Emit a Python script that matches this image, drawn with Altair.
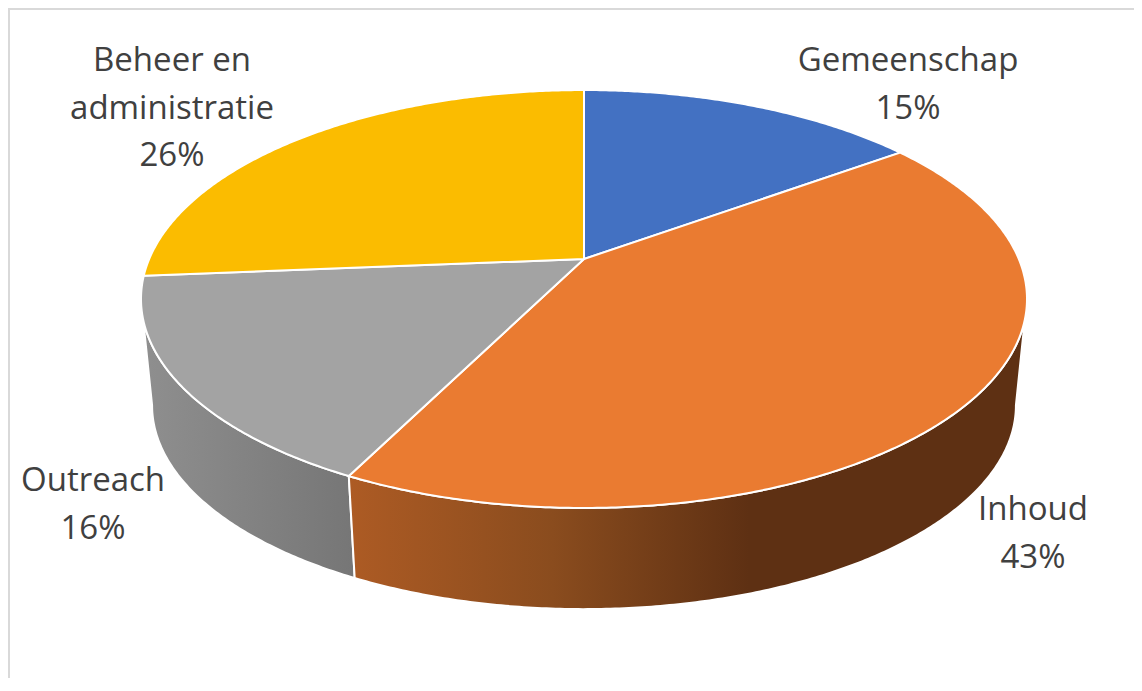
import numpy as np
import altair as alt

categories = ["Gemeenschap", "Inhoud", "Outreach", "Beheer en administratie"]
shares = [15.0, 42.4, 16.3, 26.3]
percent_labels = ["15%", "43%", "16%", "26%"]
colors = ["#4371C2", "#EA7B31", "#A3A3A3", "#FBBC00"]
label_lines = [["Gemeenschap", "15%"], ["Inhoud", "43%"], ["Outreach", "16%"],
               ["Beheer en", "administratie", "26%"]]
label_centres_px = [(908, 71), (1033, 520), (93, 491), (172, 71)]
line_step_px = 47.5

# Perspective of the tilted disc, in units of the projection scale
PERSP = 0.1914
V_RATIO = 201.3 / 434.8
SCALE = 434.8
CX, CY = 584 - 8, 259 - 8
BOTTOM_S = 0.975
BOTTOM_DY = 107.4 / SCALE
VISIBLE_FROM, VISIBLE_TO = 101.0, 259.0


def disc(theta_deg):
    t = np.radians(theta_deg)
    u, v = np.sin(t), np.cos(t)
    w = 1 + PERSP * v
    return u / w, V_RATIO * v / w


def top(theta_deg):
    return [[float(a), float(b)] for a, b in zip(*disc(theta_deg))]


def bottom(theta_deg):
    x, y = disc(theta_deg)
    return [[float(a), float(b)] for a, b in zip(BOTTOM_S * x, BOTTOM_S * y - BOTTOM_DY)]


def feature(name, ring):
    return {"type": "Feature", "properties": {"name": name},
            "geometry": {"type": "Polygon", "coordinates": [ring + [ring[0]]]}}


edges = np.cumsum([0.0] + shares) / sum(shares) * 360.0
tops, walls = [], {}
for i, name in enumerate(categories):
    a, b = edges[i], edges[i + 1]
    arc = np.linspace(a, b, int(b - a) * 2 + 2)
    tops.append(feature(name, [[0.0, 0.0]] + top(arc)))
    lo, hi = max(a, VISIBLE_FROM), min(b, VISIBLE_TO)
    if hi > lo:
        th = np.linspace(lo, hi, int(hi - lo) * 2 + 2)
        walls[name] = feature(name, top(th) + bottom(th)[::-1])

projection = dict(type="identity", reflectY=True, scale=SCALE, translate=[CX, CY])


def wall_layer(name, stops):
    grad = alt.Gradient(gradient="linear", x1=0, x2=1, y1=0, y2=0,
                        stops=[alt.GradientStop(offset=o, color=c) for o, c in stops])
    return alt.Chart(alt.Data(values=[walls[name]])).mark_geoshape(
        fill=grad, stroke="#FFFFFF", strokeWidth=2, filled=True
    ).project(**projection)


wall_out = wall_layer("Outreach", [(0, "#8F8F8F"), (1, "#767676")])
wall_inh = wall_layer("Inhoud", [(0, "#AD5B24"), (0.3, "#8A4C1E"), (0.59, "#5E3013"), (1, "#5E3013")])

top_layer = alt.Chart(alt.Data(values=tops)).mark_geoshape(
    stroke="#FFFFFF", strokeWidth=2, filled=True
).encode(
    fill=alt.Fill("properties.name:N", scale=alt.Scale(domain=categories, range=colors), legend=None)
).project(**projection)

rows = []
for lines, (px, py) in zip(label_lines, label_centres_px):
    for k, line in enumerate(lines):
        rows.append({"text": line,
                     "lon": (px - 8 - CX) / SCALE,
                     "lat": (CY - (py - 8 + k * line_step_px)) / SCALE})

text = alt.Chart(alt.Data(values=rows)).mark_text(
    font="Open Sans", fontSize=33, color="#404040", align="center", baseline="alphabetic"
).encode(
    longitude="lon:Q", latitude="lat:Q", text="text:N"
).project(**projection)

frame_top = alt.Chart(alt.Data(values=[{"a": 0}])).mark_rule(color="#D9D9D9", strokeWidth=2).encode(
    x=alt.value(0), x2=alt.value(1126), y=alt.value(1)
)
frame_left = alt.Chart(alt.Data(values=[{"a": 0}])).mark_rule(color="#D9D9D9", strokeWidth=2).encode(
    x=alt.value(1), y=alt.value(0), y2=alt.value(670)
)

chart = alt.layer(frame_top, frame_left, wall_out, wall_inh, top_layer, text).properties(
    width=1126, height=670, padding=0, autosize="none", background="#FFFFFF"
).configure_view(stroke=None)

chart.save("out.html", embed_options={"renderer": "svg", "actions": False})
